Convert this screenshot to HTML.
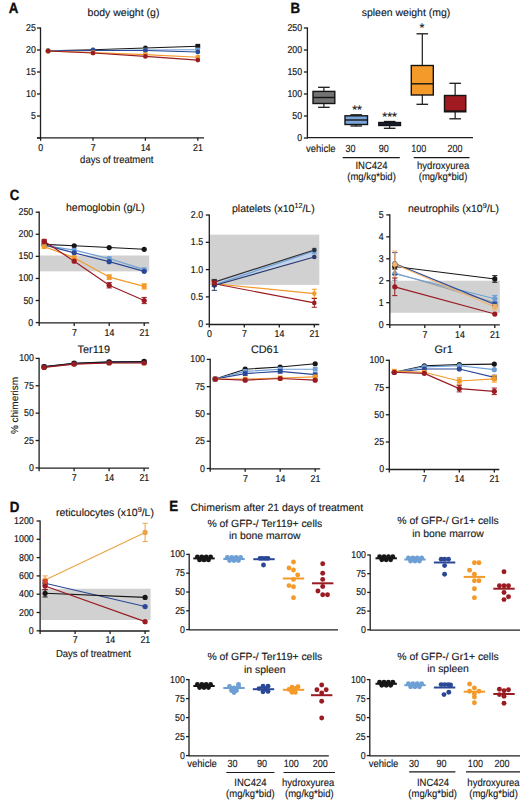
<!DOCTYPE html>
<html><head><meta charset="utf-8"><style>
html,body{margin:0;padding:0;background:#fff;}
body{width:520px;height:800px;overflow:hidden;}
svg{display:block;font-family:"Liberation Sans", sans-serif;}
text{stroke:#151515;stroke-width:0.12px;paint-order:stroke;text-rendering:geometricPrecision;}
text.tk{stroke-width:0.18px;}
text.pl{stroke-width:0.35px;}
</style></head><body>
<svg width="520" height="800" viewBox="0 0 520 800">
<rect width="520" height="800" fill="#fff"/>
<text transform="translate(8.80 13.30) scale(0.9 1.0)" font-size="14.8" text-anchor="start" font-weight="bold" fill="#0d0d0d" class="pl">A</text>
<text transform="translate(290.40 13.30) scale(0.9 1.0)" font-size="14.8" text-anchor="start" font-weight="bold" fill="#0d0d0d" class="pl">B</text>
<text transform="translate(9.80 199.50) scale(0.9 1.0)" font-size="14.8" text-anchor="start" font-weight="bold" fill="#0d0d0d" class="pl">C</text>
<text transform="translate(9.80 511.50) scale(0.9 1.0)" font-size="14.8" text-anchor="start" font-weight="bold" fill="#0d0d0d" class="pl">D</text>
<text transform="translate(169.20 511.30) scale(0.9 1.0)" font-size="14.8" text-anchor="start" font-weight="bold" fill="#0d0d0d" class="pl">E</text>
<text x="123.50" y="16.40" font-size="10.5" text-anchor="middle" font-weight="normal" fill="#151515">body weight (g)</text>
<line x1="40.50" y1="27.40" x2="40.50" y2="138.60" stroke="#1e1e1e" stroke-width="1.3"/>
<line x1="37.00" y1="138.00" x2="40.50" y2="138.00" stroke="#1e1e1e" stroke-width="1.3"/>
<line x1="37.00" y1="116.00" x2="40.50" y2="116.00" stroke="#1e1e1e" stroke-width="1.3"/>
<text transform="translate(35.80 119.00) scale(0.88 1.0)" font-size="10.0" text-anchor="end" font-weight="normal" fill="#151515" class="tk">5</text>
<line x1="37.00" y1="94.00" x2="40.50" y2="94.00" stroke="#1e1e1e" stroke-width="1.3"/>
<text transform="translate(35.80 97.00) scale(0.88 1.0)" font-size="10.0" text-anchor="end" font-weight="normal" fill="#151515" class="tk">10</text>
<line x1="37.00" y1="72.00" x2="40.50" y2="72.00" stroke="#1e1e1e" stroke-width="1.3"/>
<text transform="translate(35.80 75.00) scale(0.88 1.0)" font-size="10.0" text-anchor="end" font-weight="normal" fill="#151515" class="tk">15</text>
<line x1="37.00" y1="50.00" x2="40.50" y2="50.00" stroke="#1e1e1e" stroke-width="1.3"/>
<text transform="translate(35.80 53.00) scale(0.88 1.0)" font-size="10.0" text-anchor="end" font-weight="normal" fill="#151515" class="tk">20</text>
<line x1="37.00" y1="28.00" x2="40.50" y2="28.00" stroke="#1e1e1e" stroke-width="1.3"/>
<text transform="translate(35.80 31.00) scale(0.88 1.0)" font-size="10.0" text-anchor="end" font-weight="normal" fill="#151515" class="tk">25</text>
<line x1="37.00" y1="137.80" x2="204.00" y2="137.80" stroke="#1e1e1e" stroke-width="1.3"/>
<line x1="40.60" y1="137.80" x2="40.60" y2="140.80" stroke="#1e1e1e" stroke-width="1.3"/>
<text transform="translate(40.80 150.90) scale(0.88 1.0)" font-size="10.0" text-anchor="middle" font-weight="normal" fill="#151515" class="tk">0</text>
<line x1="93.00" y1="137.80" x2="93.00" y2="140.80" stroke="#1e1e1e" stroke-width="1.3"/>
<text transform="translate(93.20 150.90) scale(0.88 1.0)" font-size="10.0" text-anchor="middle" font-weight="normal" fill="#151515" class="tk">7</text>
<line x1="145.40" y1="137.80" x2="145.40" y2="140.80" stroke="#1e1e1e" stroke-width="1.3"/>
<text transform="translate(145.60 150.90) scale(0.88 1.0)" font-size="10.0" text-anchor="middle" font-weight="normal" fill="#151515" class="tk">14</text>
<line x1="197.81" y1="137.80" x2="197.81" y2="140.80" stroke="#1e1e1e" stroke-width="1.3"/>
<text transform="translate(198.01 150.90) scale(0.88 1.0)" font-size="10.0" text-anchor="middle" font-weight="normal" fill="#151515" class="tk">21</text>
<text transform="translate(116.80 162.50) scale(1.0 1.1)" font-size="9.5" text-anchor="middle" font-weight="normal" fill="#151515">days of treatment</text>
<polyline points="48.09,50.88 93.00,49.78 145.40,48.02 197.81,46.26" fill="none" stroke="#161616" stroke-width="1.05" stroke-linejoin="round"/>
<polyline points="48.09,50.88 93.00,50.44 145.40,50.00 197.81,49.78" fill="none" stroke="#6d9fd5" stroke-width="1.05" stroke-linejoin="round"/>
<polyline points="48.09,50.88 93.00,50.44 145.40,50.44 197.81,51.98" fill="none" stroke="#2b4897" stroke-width="1.05" stroke-linejoin="round"/>
<polyline points="48.09,51.10 93.00,52.64 145.40,54.62 197.81,57.26" fill="none" stroke="#f39a2a" stroke-width="1.05" stroke-linejoin="round"/>
<polyline points="48.09,51.10 93.00,53.08 145.40,56.38 197.81,60.12" fill="none" stroke="#9a1b22" stroke-width="1.05" stroke-linejoin="round"/>
<circle cx="48.09" cy="50.88" r="2.4" fill="#161616"/>
<circle cx="93.00" cy="49.78" r="2.4" fill="#161616"/>
<circle cx="145.40" cy="48.02" r="2.4" fill="#161616"/>
<rect x="195.41" y="43.86" width="4.80" height="4.80" fill="#161616"/>
<rect x="45.89" y="48.68" width="4.40" height="4.40" fill="#6d9fd5"/>
<rect x="90.80" y="48.24" width="4.40" height="4.40" fill="#6d9fd5"/>
<rect x="143.20" y="47.80" width="4.40" height="4.40" fill="#6d9fd5"/>
<rect x="195.61" y="47.58" width="4.40" height="4.40" fill="#6d9fd5"/>
<circle cx="48.09" cy="50.88" r="2.4" fill="#2b4897"/>
<circle cx="93.00" cy="50.44" r="2.4" fill="#2b4897"/>
<circle cx="145.40" cy="50.44" r="2.4" fill="#2b4897"/>
<circle cx="197.81" cy="51.98" r="2.4" fill="#2b4897"/>
<rect x="45.89" y="48.90" width="4.40" height="4.40" fill="#f39a2a"/>
<rect x="90.80" y="50.44" width="4.40" height="4.40" fill="#f39a2a"/>
<rect x="143.20" y="52.42" width="4.40" height="4.40" fill="#f39a2a"/>
<rect x="195.61" y="55.06" width="4.40" height="4.40" fill="#f39a2a"/>
<circle cx="48.09" cy="51.10" r="2.4" fill="#9a1b22"/>
<circle cx="93.00" cy="53.08" r="2.4" fill="#9a1b22"/>
<circle cx="145.40" cy="56.38" r="2.4" fill="#9a1b22"/>
<circle cx="197.81" cy="60.12" r="2.4" fill="#9a1b22"/>
<text x="406.00" y="16.40" font-size="10.5" text-anchor="middle" font-weight="normal" fill="#151515">spleen weight (mg)</text>
<line x1="307.40" y1="27.40" x2="307.40" y2="138.60" stroke="#1e1e1e" stroke-width="1.3"/>
<line x1="303.90" y1="138.00" x2="307.40" y2="138.00" stroke="#1e1e1e" stroke-width="1.3"/>
<text transform="translate(302.10 141.00) scale(0.88 1.0)" font-size="10.0" text-anchor="end" font-weight="normal" fill="#151515" class="tk">0</text>
<line x1="303.90" y1="116.00" x2="307.40" y2="116.00" stroke="#1e1e1e" stroke-width="1.3"/>
<text transform="translate(302.10 119.00) scale(0.88 1.0)" font-size="10.0" text-anchor="end" font-weight="normal" fill="#151515" class="tk">50</text>
<line x1="303.90" y1="94.00" x2="307.40" y2="94.00" stroke="#1e1e1e" stroke-width="1.3"/>
<text transform="translate(302.10 97.00) scale(0.88 1.0)" font-size="10.0" text-anchor="end" font-weight="normal" fill="#151515" class="tk">100</text>
<line x1="303.90" y1="72.00" x2="307.40" y2="72.00" stroke="#1e1e1e" stroke-width="1.3"/>
<text transform="translate(302.10 75.00) scale(0.88 1.0)" font-size="10.0" text-anchor="end" font-weight="normal" fill="#151515" class="tk">150</text>
<line x1="303.90" y1="50.00" x2="307.40" y2="50.00" stroke="#1e1e1e" stroke-width="1.3"/>
<text transform="translate(302.10 53.00) scale(0.88 1.0)" font-size="10.0" text-anchor="end" font-weight="normal" fill="#151515" class="tk">200</text>
<line x1="303.90" y1="28.00" x2="307.40" y2="28.00" stroke="#1e1e1e" stroke-width="1.3"/>
<text transform="translate(302.10 31.00) scale(0.88 1.0)" font-size="10.0" text-anchor="end" font-weight="normal" fill="#151515" class="tk">250</text>
<line x1="307.40" y1="137.60" x2="473.00" y2="137.60" stroke="#1e1e1e" stroke-width="1.3"/>
<line x1="323.90" y1="87.30" x2="323.90" y2="91.40" stroke="#1a1a1a" stroke-width="1.2"/>
<line x1="323.90" y1="103.50" x2="323.90" y2="107.30" stroke="#1a1a1a" stroke-width="1.2"/>
<line x1="318.10" y1="87.30" x2="329.70" y2="87.30" stroke="#1a1a1a" stroke-width="1.3"/>
<line x1="318.10" y1="107.30" x2="329.70" y2="107.30" stroke="#1a1a1a" stroke-width="1.3"/>
<rect x="313.00" y="91.40" width="21.80" height="12.10" fill="#737373" stroke="#141414" stroke-width="1.4"/>
<line x1="313.00" y1="97.50" x2="334.80" y2="97.50" stroke="#141414" stroke-width="1.4"/>
<line x1="356.25" y1="114.80" x2="356.25" y2="115.80" stroke="#1a1a1a" stroke-width="1.2"/>
<line x1="356.25" y1="124.50" x2="356.25" y2="126.00" stroke="#1a1a1a" stroke-width="1.2"/>
<line x1="350.45" y1="114.80" x2="362.05" y2="114.80" stroke="#1a1a1a" stroke-width="1.3"/>
<line x1="350.45" y1="126.00" x2="362.05" y2="126.00" stroke="#1a1a1a" stroke-width="1.3"/>
<rect x="345.00" y="115.80" width="22.50" height="8.70" fill="#79a5db" stroke="#141414" stroke-width="1.4"/>
<line x1="345.00" y1="120.00" x2="367.50" y2="120.00" stroke="#141414" stroke-width="1.4"/>
<line x1="389.65" y1="121.50" x2="389.65" y2="122.50" stroke="#1a1a1a" stroke-width="1.2"/>
<line x1="389.65" y1="125.50" x2="389.65" y2="128.30" stroke="#1a1a1a" stroke-width="1.2"/>
<line x1="383.85" y1="121.50" x2="395.45" y2="121.50" stroke="#1a1a1a" stroke-width="1.3"/>
<line x1="383.85" y1="128.30" x2="395.45" y2="128.30" stroke="#1a1a1a" stroke-width="1.3"/>
<rect x="378.80" y="122.50" width="21.70" height="3.00" fill="#2b3d85" stroke="#141414" stroke-width="1.4"/>
<line x1="378.80" y1="124.00" x2="400.50" y2="124.00" stroke="#141414" stroke-width="1.4"/>
<line x1="422.30" y1="33.80" x2="422.30" y2="65.50" stroke="#1a1a1a" stroke-width="1.2"/>
<line x1="422.30" y1="95.00" x2="422.30" y2="104.30" stroke="#1a1a1a" stroke-width="1.2"/>
<line x1="416.50" y1="33.80" x2="428.10" y2="33.80" stroke="#1a1a1a" stroke-width="1.3"/>
<line x1="416.50" y1="104.30" x2="428.10" y2="104.30" stroke="#1a1a1a" stroke-width="1.3"/>
<rect x="411.30" y="65.50" width="22.00" height="29.50" fill="#f39a2a" stroke="#141414" stroke-width="1.4"/>
<line x1="411.30" y1="83.80" x2="433.30" y2="83.80" stroke="#141414" stroke-width="1.4"/>
<line x1="455.15" y1="83.30" x2="455.15" y2="95.50" stroke="#1a1a1a" stroke-width="1.2"/>
<line x1="455.15" y1="111.80" x2="455.15" y2="118.80" stroke="#1a1a1a" stroke-width="1.2"/>
<line x1="449.35" y1="83.30" x2="460.95" y2="83.30" stroke="#1a1a1a" stroke-width="1.3"/>
<line x1="449.35" y1="118.80" x2="460.95" y2="118.80" stroke="#1a1a1a" stroke-width="1.3"/>
<rect x="444.50" y="95.50" width="21.30" height="16.30" fill="#a11a21" stroke="#141414" stroke-width="1.4"/>
<line x1="444.50" y1="111.00" x2="465.80" y2="111.00" stroke="#141414" stroke-width="1.4"/>
<text x="357.00" y="114.40" font-size="12.5" text-anchor="middle" font-weight="normal" fill="#151515">**</text>
<text x="389.60" y="120.60" font-size="12.5" text-anchor="middle" font-weight="normal" fill="#151515">***</text>
<text x="422.00" y="31.60" font-size="12.5" text-anchor="middle" font-weight="normal" fill="#151515">*</text>
<text transform="translate(320.80 151.90) scale(1.0 1.1)" font-size="9.5" text-anchor="middle" font-weight="normal" fill="#151515">vehicle</text>
<text transform="translate(350.60 151.90) scale(0.95 1.1)" font-size="9.5" text-anchor="middle" font-weight="normal" fill="#151515">30</text>
<text transform="translate(383.70 151.90) scale(0.95 1.1)" font-size="9.5" text-anchor="middle" font-weight="normal" fill="#151515">90</text>
<text transform="translate(418.80 151.90) scale(0.95 1.1)" font-size="9.5" text-anchor="middle" font-weight="normal" fill="#151515">100</text>
<text transform="translate(455.00 151.90) scale(0.95 1.1)" font-size="9.5" text-anchor="middle" font-weight="normal" fill="#151515">200</text>
<line x1="342.70" y1="157.70" x2="399.80" y2="157.70" stroke="#1a1a1a" stroke-width="1.2"/>
<line x1="413.70" y1="157.70" x2="469.50" y2="157.70" stroke="#1a1a1a" stroke-width="1.2"/>
<text transform="translate(371.50 168.80) scale(1.0 1.1)" font-size="9.5" text-anchor="middle" font-weight="normal" fill="#151515">INC424</text>
<text transform="translate(371.50 179.60) scale(1.0 1.1)" font-size="9.5" text-anchor="middle" font-weight="normal" fill="#151515">(mg/kg*bid)</text>
<text transform="translate(443.20 168.80) scale(1.0 1.1)" font-size="9.5" text-anchor="middle" font-weight="normal" fill="#151515">hydroxyurea</text>
<text transform="translate(443.00 179.60) scale(1.0 1.1)" font-size="9.5" text-anchor="middle" font-weight="normal" fill="#151515">(mg/kg*bid)</text>
<rect x="39.20" y="255.48" width="110.00" height="15.90" fill="#d1d1d1"/>
<line x1="39.20" y1="211.60" x2="39.20" y2="323.20" stroke="#1e1e1e" stroke-width="1.3"/>
<line x1="35.70" y1="322.60" x2="39.20" y2="322.60" stroke="#1e1e1e" stroke-width="1.3"/>
<text transform="translate(33.20 325.60) scale(0.88 1.0)" font-size="10.0" text-anchor="end" font-weight="normal" fill="#151515" class="tk">0</text>
<line x1="35.70" y1="300.52" x2="39.20" y2="300.52" stroke="#1e1e1e" stroke-width="1.3"/>
<text transform="translate(33.20 303.52) scale(0.88 1.0)" font-size="10.0" text-anchor="end" font-weight="normal" fill="#151515" class="tk">50</text>
<line x1="35.70" y1="278.44" x2="39.20" y2="278.44" stroke="#1e1e1e" stroke-width="1.3"/>
<text transform="translate(33.20 281.44) scale(0.88 1.0)" font-size="10.0" text-anchor="end" font-weight="normal" fill="#151515" class="tk">100</text>
<line x1="35.70" y1="256.36" x2="39.20" y2="256.36" stroke="#1e1e1e" stroke-width="1.3"/>
<text transform="translate(33.20 259.36) scale(0.88 1.0)" font-size="10.0" text-anchor="end" font-weight="normal" fill="#151515" class="tk">150</text>
<line x1="35.70" y1="234.28" x2="39.20" y2="234.28" stroke="#1e1e1e" stroke-width="1.3"/>
<text transform="translate(33.20 237.28) scale(0.88 1.0)" font-size="10.0" text-anchor="end" font-weight="normal" fill="#151515" class="tk">200</text>
<line x1="35.70" y1="212.20" x2="39.20" y2="212.20" stroke="#1e1e1e" stroke-width="1.3"/>
<text transform="translate(33.20 215.20) scale(0.88 1.0)" font-size="10.0" text-anchor="end" font-weight="normal" fill="#151515" class="tk">250</text>
<line x1="39.20" y1="322.90" x2="149.20" y2="322.90" stroke="#1e1e1e" stroke-width="1.3"/>
<line x1="39.20" y1="322.90" x2="39.20" y2="325.90" stroke="#1e1e1e" stroke-width="1.3"/>
<line x1="74.20" y1="322.90" x2="74.20" y2="325.90" stroke="#1e1e1e" stroke-width="1.3"/>
<text transform="translate(74.40 335.80) scale(0.88 1.0)" font-size="10.0" text-anchor="middle" font-weight="normal" fill="#151515" class="tk">7</text>
<line x1="109.20" y1="322.90" x2="109.20" y2="325.90" stroke="#1e1e1e" stroke-width="1.3"/>
<text transform="translate(109.40 335.80) scale(0.88 1.0)" font-size="10.0" text-anchor="middle" font-weight="normal" fill="#151515" class="tk">14</text>
<line x1="144.20" y1="322.90" x2="144.20" y2="325.90" stroke="#1e1e1e" stroke-width="1.3"/>
<text transform="translate(144.40 335.80) scale(0.88 1.0)" font-size="10.0" text-anchor="middle" font-weight="normal" fill="#151515" class="tk">21</text>
<text x="105.40" y="211.30" font-size="10.5" text-anchor="middle" font-weight="normal" fill="#151515">hemoglobin (g/L)</text>
<polyline points="44.20,244.44 74.20,245.76 109.20,247.53 144.20,249.29" fill="none" stroke="#161616" stroke-width="1.15" stroke-linejoin="round"/>
<polyline points="44.20,245.32 74.20,250.18 109.20,258.57 144.20,269.61" fill="none" stroke="#6d9fd5" stroke-width="1.15" stroke-linejoin="round"/>
<polyline points="44.20,244.88 74.20,252.83 109.20,261.66 144.20,271.37" fill="none" stroke="#2b4897" stroke-width="1.15" stroke-linejoin="round"/>
<polyline points="44.20,246.64 74.20,257.68 109.20,277.12 144.20,286.39" fill="none" stroke="#f39a2a" stroke-width="1.15" stroke-linejoin="round"/>
<polyline points="44.20,241.35 74.20,261.22 109.20,285.28 144.20,300.52" fill="none" stroke="#9a1b22" stroke-width="1.15" stroke-linejoin="round"/>
<circle cx="44.20" cy="244.44" r="2.6" fill="#161616"/>
<circle cx="74.20" cy="245.76" r="2.6" fill="#161616"/>
<circle cx="109.20" cy="247.53" r="2.6" fill="#161616"/>
<circle cx="144.20" cy="249.29" r="2.6" fill="#161616"/>
<rect x="41.80" y="242.92" width="4.80" height="4.80" fill="#6d9fd5"/>
<rect x="71.80" y="247.78" width="4.80" height="4.80" fill="#6d9fd5"/>
<rect x="106.80" y="256.17" width="4.80" height="4.80" fill="#6d9fd5"/>
<rect x="141.80" y="267.21" width="4.80" height="4.80" fill="#6d9fd5"/>
<circle cx="44.20" cy="244.88" r="2.6" fill="#2b4897"/>
<circle cx="74.20" cy="252.83" r="2.6" fill="#2b4897"/>
<circle cx="109.20" cy="261.66" r="2.6" fill="#2b4897"/>
<circle cx="144.20" cy="271.37" r="2.6" fill="#2b4897"/>
<rect x="41.80" y="244.24" width="4.80" height="4.80" fill="#f39a2a"/>
<rect x="71.80" y="255.28" width="4.80" height="4.80" fill="#f39a2a"/>
<line x1="109.20" y1="279.32" x2="109.20" y2="274.91" stroke="#f39a2a" stroke-width="1.0"/>
<line x1="106.60" y1="279.32" x2="111.80" y2="279.32" stroke="#f39a2a" stroke-width="1.0"/>
<line x1="106.60" y1="274.91" x2="111.80" y2="274.91" stroke="#f39a2a" stroke-width="1.0"/>
<rect x="106.80" y="274.72" width="4.80" height="4.80" fill="#f39a2a"/>
<line x1="144.20" y1="289.04" x2="144.20" y2="283.74" stroke="#f39a2a" stroke-width="1.0"/>
<line x1="141.60" y1="289.04" x2="146.80" y2="289.04" stroke="#f39a2a" stroke-width="1.0"/>
<line x1="141.60" y1="283.74" x2="146.80" y2="283.74" stroke="#f39a2a" stroke-width="1.0"/>
<rect x="141.80" y="283.99" width="4.80" height="4.80" fill="#f39a2a"/>
<circle cx="44.20" cy="241.35" r="2.6" fill="#9a1b22"/>
<circle cx="74.20" cy="261.22" r="2.6" fill="#9a1b22"/>
<line x1="109.20" y1="287.93" x2="109.20" y2="282.64" stroke="#9a1b22" stroke-width="1.0"/>
<line x1="106.60" y1="287.93" x2="111.80" y2="287.93" stroke="#9a1b22" stroke-width="1.0"/>
<line x1="106.60" y1="282.64" x2="111.80" y2="282.64" stroke="#9a1b22" stroke-width="1.0"/>
<circle cx="109.20" cy="285.28" r="2.6" fill="#9a1b22"/>
<line x1="144.20" y1="303.61" x2="144.20" y2="297.43" stroke="#9a1b22" stroke-width="1.0"/>
<line x1="141.60" y1="303.61" x2="146.80" y2="303.61" stroke="#9a1b22" stroke-width="1.0"/>
<line x1="141.60" y1="297.43" x2="146.80" y2="297.43" stroke="#9a1b22" stroke-width="1.0"/>
<circle cx="144.20" cy="300.52" r="2.6" fill="#9a1b22"/>
<rect x="41.70" y="238.85" width="5.00" height="5.00" fill="#9a1b22"/>
<rect x="209.30" y="234.66" width="110.00" height="50.23" fill="#d1d1d1"/>
<line x1="209.30" y1="214.40" x2="209.30" y2="324.80" stroke="#1e1e1e" stroke-width="1.3"/>
<line x1="205.80" y1="324.20" x2="209.30" y2="324.20" stroke="#1e1e1e" stroke-width="1.3"/>
<text transform="translate(203.10 327.20) scale(0.88 1.0)" font-size="10.0" text-anchor="end" font-weight="normal" fill="#151515" class="tk">0</text>
<line x1="205.80" y1="296.90" x2="209.30" y2="296.90" stroke="#1e1e1e" stroke-width="1.3"/>
<text transform="translate(203.10 299.90) scale(0.88 1.0)" font-size="10.0" text-anchor="end" font-weight="normal" fill="#151515" class="tk">0.5</text>
<line x1="205.80" y1="269.60" x2="209.30" y2="269.60" stroke="#1e1e1e" stroke-width="1.3"/>
<text transform="translate(203.10 272.60) scale(0.88 1.0)" font-size="10.0" text-anchor="end" font-weight="normal" fill="#151515" class="tk">1.0</text>
<line x1="205.80" y1="242.30" x2="209.30" y2="242.30" stroke="#1e1e1e" stroke-width="1.3"/>
<text transform="translate(203.10 245.30) scale(0.88 1.0)" font-size="10.0" text-anchor="end" font-weight="normal" fill="#151515" class="tk">1.5</text>
<line x1="205.80" y1="215.00" x2="209.30" y2="215.00" stroke="#1e1e1e" stroke-width="1.3"/>
<text transform="translate(203.10 218.00) scale(0.88 1.0)" font-size="10.0" text-anchor="end" font-weight="normal" fill="#151515" class="tk">2.0</text>
<line x1="209.30" y1="324.50" x2="319.30" y2="324.50" stroke="#1e1e1e" stroke-width="1.3"/>
<line x1="209.30" y1="324.50" x2="209.30" y2="327.50" stroke="#1e1e1e" stroke-width="1.3"/>
<text transform="translate(209.50 337.40) scale(0.88 1.0)" font-size="10.0" text-anchor="middle" font-weight="normal" fill="#151515" class="tk">0</text>
<line x1="244.30" y1="324.50" x2="244.30" y2="327.50" stroke="#1e1e1e" stroke-width="1.3"/>
<text transform="translate(244.50 337.40) scale(0.88 1.0)" font-size="10.0" text-anchor="middle" font-weight="normal" fill="#151515" class="tk">7</text>
<line x1="279.30" y1="324.50" x2="279.30" y2="327.50" stroke="#1e1e1e" stroke-width="1.3"/>
<text transform="translate(279.50 337.40) scale(0.88 1.0)" font-size="10.0" text-anchor="middle" font-weight="normal" fill="#151515" class="tk">14</text>
<line x1="314.30" y1="324.50" x2="314.30" y2="327.50" stroke="#1e1e1e" stroke-width="1.3"/>
<text transform="translate(314.50 337.40) scale(0.88 1.0)" font-size="10.0" text-anchor="middle" font-weight="normal" fill="#151515" class="tk">21</text>
<text x="232.00" y="211.90" font-size="10.5" text-anchor="start" font-weight="normal" fill="#151515">platelets (x10<tspan dy="-4.2" font-size="7.2">12</tspan><tspan dy="4.2">/L)</tspan></text>
<polygon points="214.30,282.16 314.30,249.94 314.30,257.04 214.30,285.43" fill="#c3d1e8"/>
<polyline points="214.30,283.80 314.30,293.62" fill="none" stroke="#f39a2a" stroke-width="1.15" stroke-linejoin="round"/>
<polyline points="214.30,283.80 314.30,302.91" fill="none" stroke="#9a1b22" stroke-width="1.15" stroke-linejoin="round"/>
<polyline points="214.30,284.89 314.30,251.04" fill="none" stroke="#6d9fd5" stroke-width="1.15" stroke-linejoin="round"/>
<polyline points="214.30,285.43 314.30,257.04" fill="none" stroke="#2a3a6a" stroke-width="1.15" stroke-linejoin="round"/>
<polyline points="214.30,282.16 314.30,249.94" fill="none" stroke="#303030" stroke-width="1.15" stroke-linejoin="round"/>
<line x1="214.30" y1="285.98" x2="214.30" y2="281.61" stroke="#f39a2a" stroke-width="1.0"/>
<line x1="211.70" y1="285.98" x2="216.90" y2="285.98" stroke="#f39a2a" stroke-width="1.0"/>
<line x1="211.70" y1="281.61" x2="216.90" y2="281.61" stroke="#f39a2a" stroke-width="1.0"/>
<circle cx="214.30" cy="283.80" r="2.3" fill="#f39a2a"/>
<line x1="314.30" y1="297.99" x2="314.30" y2="289.26" stroke="#f39a2a" stroke-width="1.0"/>
<line x1="311.70" y1="297.99" x2="316.90" y2="297.99" stroke="#f39a2a" stroke-width="1.0"/>
<line x1="311.70" y1="289.26" x2="316.90" y2="289.26" stroke="#f39a2a" stroke-width="1.0"/>
<circle cx="314.30" cy="293.62" r="2.3" fill="#f39a2a"/>
<line x1="214.30" y1="286.53" x2="214.30" y2="281.07" stroke="#9a1b22" stroke-width="1.0"/>
<line x1="211.70" y1="286.53" x2="216.90" y2="286.53" stroke="#9a1b22" stroke-width="1.0"/>
<line x1="211.70" y1="281.07" x2="216.90" y2="281.07" stroke="#9a1b22" stroke-width="1.0"/>
<circle cx="214.30" cy="283.80" r="2.3" fill="#9a1b22"/>
<line x1="314.30" y1="307.27" x2="314.30" y2="298.54" stroke="#9a1b22" stroke-width="1.0"/>
<line x1="311.70" y1="307.27" x2="316.90" y2="307.27" stroke="#9a1b22" stroke-width="1.0"/>
<line x1="311.70" y1="298.54" x2="316.90" y2="298.54" stroke="#9a1b22" stroke-width="1.0"/>
<circle cx="314.30" cy="302.91" r="2.3" fill="#9a1b22"/>
<rect x="212.20" y="282.79" width="4.20" height="4.20" fill="#6d9fd5"/>
<line x1="314.30" y1="253.77" x2="314.30" y2="248.31" stroke="#6d9fd5" stroke-width="1.0"/>
<line x1="311.70" y1="253.77" x2="316.90" y2="253.77" stroke="#6d9fd5" stroke-width="1.0"/>
<line x1="311.70" y1="248.31" x2="316.90" y2="248.31" stroke="#6d9fd5" stroke-width="1.0"/>
<rect x="312.20" y="248.94" width="4.20" height="4.20" fill="#6d9fd5"/>
<line x1="214.30" y1="290.35" x2="214.30" y2="280.52" stroke="#2a3a6a" stroke-width="1.0"/>
<line x1="211.70" y1="290.35" x2="216.90" y2="290.35" stroke="#2a3a6a" stroke-width="1.0"/>
<line x1="211.70" y1="280.52" x2="216.90" y2="280.52" stroke="#2a3a6a" stroke-width="1.0"/>
<circle cx="214.30" cy="285.43" r="2.3" fill="#2a3a6a"/>
<circle cx="314.30" cy="257.04" r="2.3" fill="#2a3a6a"/>
<line x1="214.30" y1="284.89" x2="214.30" y2="279.43" stroke="#303030" stroke-width="1.0"/>
<line x1="211.70" y1="284.89" x2="216.90" y2="284.89" stroke="#303030" stroke-width="1.0"/>
<line x1="211.70" y1="279.43" x2="216.90" y2="279.43" stroke="#303030" stroke-width="1.0"/>
<circle cx="214.30" cy="282.16" r="2.3" fill="#303030"/>
<circle cx="314.30" cy="249.94" r="2.3" fill="#303030"/>
<rect x="211.90" y="280.30" width="4.80" height="4.80" fill="#9a1b22"/>
<rect x="389.80" y="280.72" width="110.00" height="32.03" fill="#d1d1d1"/>
<line x1="389.80" y1="214.30" x2="389.80" y2="325.20" stroke="#1e1e1e" stroke-width="1.3"/>
<line x1="386.30" y1="324.60" x2="389.80" y2="324.60" stroke="#1e1e1e" stroke-width="1.3"/>
<text transform="translate(383.60 327.60) scale(0.88 1.0)" font-size="10.0" text-anchor="end" font-weight="normal" fill="#151515" class="tk">0</text>
<line x1="386.30" y1="302.66" x2="389.80" y2="302.66" stroke="#1e1e1e" stroke-width="1.3"/>
<text transform="translate(383.60 305.66) scale(0.88 1.0)" font-size="10.0" text-anchor="end" font-weight="normal" fill="#151515" class="tk">1</text>
<line x1="386.30" y1="280.72" x2="389.80" y2="280.72" stroke="#1e1e1e" stroke-width="1.3"/>
<text transform="translate(383.60 283.72) scale(0.88 1.0)" font-size="10.0" text-anchor="end" font-weight="normal" fill="#151515" class="tk">2</text>
<line x1="386.30" y1="258.78" x2="389.80" y2="258.78" stroke="#1e1e1e" stroke-width="1.3"/>
<text transform="translate(383.60 261.78) scale(0.88 1.0)" font-size="10.0" text-anchor="end" font-weight="normal" fill="#151515" class="tk">3</text>
<line x1="386.30" y1="236.84" x2="389.80" y2="236.84" stroke="#1e1e1e" stroke-width="1.3"/>
<text transform="translate(383.60 239.84) scale(0.88 1.0)" font-size="10.0" text-anchor="end" font-weight="normal" fill="#151515" class="tk">4</text>
<line x1="386.30" y1="214.90" x2="389.80" y2="214.90" stroke="#1e1e1e" stroke-width="1.3"/>
<text transform="translate(383.60 217.90) scale(0.88 1.0)" font-size="10.0" text-anchor="end" font-weight="normal" fill="#151515" class="tk">5</text>
<line x1="389.80" y1="324.90" x2="499.80" y2="324.90" stroke="#1e1e1e" stroke-width="1.3"/>
<line x1="389.80" y1="324.90" x2="389.80" y2="327.90" stroke="#1e1e1e" stroke-width="1.3"/>
<line x1="424.80" y1="324.90" x2="424.80" y2="327.90" stroke="#1e1e1e" stroke-width="1.3"/>
<text transform="translate(425.00 337.80) scale(0.88 1.0)" font-size="10.0" text-anchor="middle" font-weight="normal" fill="#151515" class="tk">7</text>
<line x1="459.80" y1="324.90" x2="459.80" y2="327.90" stroke="#1e1e1e" stroke-width="1.3"/>
<text transform="translate(460.00 337.80) scale(0.88 1.0)" font-size="10.0" text-anchor="middle" font-weight="normal" fill="#151515" class="tk">14</text>
<line x1="494.80" y1="324.90" x2="494.80" y2="327.90" stroke="#1e1e1e" stroke-width="1.3"/>
<text transform="translate(495.00 337.80) scale(0.88 1.0)" font-size="10.0" text-anchor="middle" font-weight="normal" fill="#151515" class="tk">21</text>
<text x="408.00" y="211.90" font-size="10.5" text-anchor="start" font-weight="normal" fill="#151515">neutrophils (x10<tspan dy="-4.2" font-size="7.2">9</tspan><tspan dy="4.2">/L)</tspan></text>
<polyline points="394.80,273.04 494.80,302.66" fill="none" stroke="#a0a0a0" stroke-width="1.15" stroke-linejoin="round"/>
<polyline points="394.80,273.70 494.80,298.71" fill="none" stroke="#6d9fd5" stroke-width="1.15" stroke-linejoin="round"/>
<polyline points="394.80,263.61 494.80,304.42" fill="none" stroke="#2b4897" stroke-width="1.15" stroke-linejoin="round"/>
<polyline points="394.80,266.46 494.80,278.96" fill="none" stroke="#161616" stroke-width="1.15" stroke-linejoin="round"/>
<polyline points="394.80,264.26 494.80,307.05" fill="none" stroke="#f1b36a" stroke-width="1.15" stroke-linejoin="round"/>
<polyline points="394.80,286.86 494.80,314.07" fill="none" stroke="#9a1b22" stroke-width="1.15" stroke-linejoin="round"/>
<polygon points="394.80,270.04 397.70,275.24 391.90,275.24" fill="#a0a0a0"/>
<polygon points="494.80,299.66 497.70,304.86 491.90,304.86" fill="#a0a0a0"/>
<line x1="394.80" y1="280.28" x2="394.80" y2="267.12" stroke="#6d9fd5" stroke-width="1.0"/>
<line x1="392.20" y1="280.28" x2="397.40" y2="280.28" stroke="#6d9fd5" stroke-width="1.0"/>
<line x1="392.20" y1="267.12" x2="397.40" y2="267.12" stroke="#6d9fd5" stroke-width="1.0"/>
<circle cx="394.80" cy="273.70" r="2.6" fill="#6d9fd5"/>
<line x1="494.80" y1="302.00" x2="494.80" y2="295.42" stroke="#6d9fd5" stroke-width="1.0"/>
<line x1="492.20" y1="302.00" x2="497.40" y2="302.00" stroke="#6d9fd5" stroke-width="1.0"/>
<line x1="492.20" y1="295.42" x2="497.40" y2="295.42" stroke="#6d9fd5" stroke-width="1.0"/>
<circle cx="494.80" cy="298.71" r="2.6" fill="#6d9fd5"/>
<line x1="394.80" y1="274.58" x2="394.80" y2="252.64" stroke="#2b4897" stroke-width="1.0"/>
<line x1="392.20" y1="274.58" x2="397.40" y2="274.58" stroke="#2b4897" stroke-width="1.0"/>
<line x1="392.20" y1="252.64" x2="397.40" y2="252.64" stroke="#2b4897" stroke-width="1.0"/>
<circle cx="394.80" cy="263.61" r="2.6" fill="#2b4897"/>
<line x1="494.80" y1="306.61" x2="494.80" y2="302.22" stroke="#2b4897" stroke-width="1.0"/>
<line x1="492.20" y1="306.61" x2="497.40" y2="306.61" stroke="#2b4897" stroke-width="1.0"/>
<line x1="492.20" y1="302.22" x2="497.40" y2="302.22" stroke="#2b4897" stroke-width="1.0"/>
<circle cx="494.80" cy="304.42" r="2.6" fill="#2b4897"/>
<line x1="394.80" y1="269.09" x2="394.80" y2="263.83" stroke="#161616" stroke-width="1.0"/>
<line x1="392.20" y1="269.09" x2="397.40" y2="269.09" stroke="#161616" stroke-width="1.0"/>
<line x1="392.20" y1="263.83" x2="397.40" y2="263.83" stroke="#161616" stroke-width="1.0"/>
<circle cx="394.80" cy="266.46" r="2.6" fill="#161616"/>
<line x1="494.80" y1="282.26" x2="494.80" y2="275.67" stroke="#161616" stroke-width="1.0"/>
<line x1="492.20" y1="282.26" x2="497.40" y2="282.26" stroke="#161616" stroke-width="1.0"/>
<line x1="492.20" y1="275.67" x2="497.40" y2="275.67" stroke="#161616" stroke-width="1.0"/>
<circle cx="494.80" cy="278.96" r="2.6" fill="#161616"/>
<line x1="394.80" y1="277.43" x2="394.80" y2="251.10" stroke="#f1b36a" stroke-width="1.0"/>
<line x1="392.20" y1="277.43" x2="397.40" y2="277.43" stroke="#f1b36a" stroke-width="1.0"/>
<line x1="392.20" y1="251.10" x2="397.40" y2="251.10" stroke="#f1b36a" stroke-width="1.0"/>
<circle cx="394.80" cy="264.26" r="2.6" fill="#f1b36a"/>
<line x1="494.80" y1="309.68" x2="494.80" y2="304.42" stroke="#f1b36a" stroke-width="1.0"/>
<line x1="492.20" y1="309.68" x2="497.40" y2="309.68" stroke="#f1b36a" stroke-width="1.0"/>
<line x1="492.20" y1="304.42" x2="497.40" y2="304.42" stroke="#f1b36a" stroke-width="1.0"/>
<circle cx="494.80" cy="307.05" r="2.6" fill="#f1b36a"/>
<line x1="394.80" y1="295.64" x2="394.80" y2="278.09" stroke="#9a1b22" stroke-width="1.0"/>
<line x1="392.20" y1="295.64" x2="397.40" y2="295.64" stroke="#9a1b22" stroke-width="1.0"/>
<line x1="392.20" y1="278.09" x2="397.40" y2="278.09" stroke="#9a1b22" stroke-width="1.0"/>
<circle cx="394.80" cy="286.86" r="2.6" fill="#9a1b22"/>
<circle cx="494.80" cy="314.07" r="2.6" fill="#9a1b22"/>
<line x1="39.10" y1="357.80" x2="39.10" y2="468.50" stroke="#1e1e1e" stroke-width="1.3"/>
<line x1="35.60" y1="467.90" x2="39.10" y2="467.90" stroke="#1e1e1e" stroke-width="1.3"/>
<text transform="translate(33.90 470.90) scale(0.88 1.0)" font-size="10.0" text-anchor="end" font-weight="normal" fill="#151515" class="tk">0</text>
<line x1="35.60" y1="440.52" x2="39.10" y2="440.52" stroke="#1e1e1e" stroke-width="1.3"/>
<text transform="translate(33.90 443.52) scale(0.88 1.0)" font-size="10.0" text-anchor="end" font-weight="normal" fill="#151515" class="tk">25</text>
<line x1="35.60" y1="413.15" x2="39.10" y2="413.15" stroke="#1e1e1e" stroke-width="1.3"/>
<text transform="translate(33.90 416.15) scale(0.88 1.0)" font-size="10.0" text-anchor="end" font-weight="normal" fill="#151515" class="tk">50</text>
<line x1="35.60" y1="385.77" x2="39.10" y2="385.77" stroke="#1e1e1e" stroke-width="1.3"/>
<text transform="translate(33.90 388.77) scale(0.88 1.0)" font-size="10.0" text-anchor="end" font-weight="normal" fill="#151515" class="tk">75</text>
<line x1="35.60" y1="358.40" x2="39.10" y2="358.40" stroke="#1e1e1e" stroke-width="1.3"/>
<text transform="translate(33.90 361.40) scale(0.88 1.0)" font-size="10.0" text-anchor="end" font-weight="normal" fill="#151515" class="tk">100</text>
<line x1="39.10" y1="468.20" x2="149.10" y2="468.20" stroke="#1e1e1e" stroke-width="1.3"/>
<line x1="39.10" y1="468.20" x2="39.10" y2="471.20" stroke="#1e1e1e" stroke-width="1.3"/>
<line x1="74.10" y1="468.20" x2="74.10" y2="471.20" stroke="#1e1e1e" stroke-width="1.3"/>
<text transform="translate(74.30 481.10) scale(0.88 1.0)" font-size="10.0" text-anchor="middle" font-weight="normal" fill="#151515" class="tk">7</text>
<line x1="109.10" y1="468.20" x2="109.10" y2="471.20" stroke="#1e1e1e" stroke-width="1.3"/>
<text transform="translate(109.30 481.10) scale(0.88 1.0)" font-size="10.0" text-anchor="middle" font-weight="normal" fill="#151515" class="tk">14</text>
<line x1="144.10" y1="468.20" x2="144.10" y2="471.20" stroke="#1e1e1e" stroke-width="1.3"/>
<text transform="translate(144.30 481.10) scale(0.88 1.0)" font-size="10.0" text-anchor="middle" font-weight="normal" fill="#151515" class="tk">21</text>
<text x="93.80" y="353.30" font-size="10.9" text-anchor="middle" font-weight="normal" fill="#151515">Ter119</text>
<polyline points="44.10,367.16 74.10,363.88 109.10,362.78 144.10,362.78" fill="none" stroke="#f39a2a" stroke-width="1.15" stroke-linejoin="round"/>
<polyline points="44.10,366.72 74.10,363.44 109.10,362.12 144.10,361.90" fill="none" stroke="#6d9fd5" stroke-width="1.15" stroke-linejoin="round"/>
<polyline points="44.10,366.94 74.10,363.66 109.10,362.34 144.10,362.12" fill="none" stroke="#2b4897" stroke-width="1.15" stroke-linejoin="round"/>
<polyline points="44.10,366.50 74.10,363.22 109.10,361.90 144.10,361.47" fill="none" stroke="#161616" stroke-width="1.15" stroke-linejoin="round"/>
<polyline points="44.10,367.38 74.10,364.09 109.10,363.00 144.10,363.00" fill="none" stroke="#9a1b22" stroke-width="1.15" stroke-linejoin="round"/>
<rect x="41.70" y="364.76" width="4.80" height="4.80" fill="#f39a2a"/>
<rect x="71.70" y="361.47" width="4.80" height="4.80" fill="#f39a2a"/>
<rect x="106.70" y="360.38" width="4.80" height="4.80" fill="#f39a2a"/>
<rect x="141.70" y="360.38" width="4.80" height="4.80" fill="#f39a2a"/>
<rect x="41.70" y="364.32" width="4.80" height="4.80" fill="#6d9fd5"/>
<rect x="71.70" y="361.04" width="4.80" height="4.80" fill="#6d9fd5"/>
<rect x="106.70" y="359.72" width="4.80" height="4.80" fill="#6d9fd5"/>
<rect x="141.70" y="359.50" width="4.80" height="4.80" fill="#6d9fd5"/>
<circle cx="44.10" cy="366.94" r="2.6" fill="#2b4897"/>
<circle cx="74.10" cy="363.66" r="2.6" fill="#2b4897"/>
<circle cx="109.10" cy="362.34" r="2.6" fill="#2b4897"/>
<circle cx="144.10" cy="362.12" r="2.6" fill="#2b4897"/>
<circle cx="44.10" cy="366.50" r="2.6" fill="#161616"/>
<circle cx="74.10" cy="363.22" r="2.6" fill="#161616"/>
<circle cx="109.10" cy="361.90" r="2.6" fill="#161616"/>
<circle cx="144.10" cy="361.47" r="2.6" fill="#161616"/>
<circle cx="44.10" cy="367.38" r="2.6" fill="#9a1b22"/>
<circle cx="74.10" cy="364.09" r="2.6" fill="#9a1b22"/>
<circle cx="109.10" cy="363.00" r="2.6" fill="#9a1b22"/>
<circle cx="144.10" cy="363.00" r="2.6" fill="#9a1b22"/>
<line x1="210.20" y1="358.80" x2="210.20" y2="469.10" stroke="#1e1e1e" stroke-width="1.3"/>
<line x1="206.70" y1="468.50" x2="210.20" y2="468.50" stroke="#1e1e1e" stroke-width="1.3"/>
<text transform="translate(205.00 471.50) scale(0.88 1.0)" font-size="10.0" text-anchor="end" font-weight="normal" fill="#151515" class="tk">0</text>
<line x1="206.70" y1="441.23" x2="210.20" y2="441.23" stroke="#1e1e1e" stroke-width="1.3"/>
<text transform="translate(205.00 444.23) scale(0.88 1.0)" font-size="10.0" text-anchor="end" font-weight="normal" fill="#151515" class="tk">25</text>
<line x1="206.70" y1="413.95" x2="210.20" y2="413.95" stroke="#1e1e1e" stroke-width="1.3"/>
<text transform="translate(205.00 416.95) scale(0.88 1.0)" font-size="10.0" text-anchor="end" font-weight="normal" fill="#151515" class="tk">50</text>
<line x1="206.70" y1="386.67" x2="210.20" y2="386.67" stroke="#1e1e1e" stroke-width="1.3"/>
<text transform="translate(205.00 389.67) scale(0.88 1.0)" font-size="10.0" text-anchor="end" font-weight="normal" fill="#151515" class="tk">75</text>
<line x1="206.70" y1="359.40" x2="210.20" y2="359.40" stroke="#1e1e1e" stroke-width="1.3"/>
<text transform="translate(205.00 362.40) scale(0.88 1.0)" font-size="10.0" text-anchor="end" font-weight="normal" fill="#151515" class="tk">100</text>
<line x1="210.20" y1="468.80" x2="320.20" y2="468.80" stroke="#1e1e1e" stroke-width="1.3"/>
<line x1="210.20" y1="468.80" x2="210.20" y2="471.80" stroke="#1e1e1e" stroke-width="1.3"/>
<line x1="245.20" y1="468.80" x2="245.20" y2="471.80" stroke="#1e1e1e" stroke-width="1.3"/>
<text transform="translate(245.40 481.70) scale(0.88 1.0)" font-size="10.0" text-anchor="middle" font-weight="normal" fill="#151515" class="tk">7</text>
<line x1="280.20" y1="468.80" x2="280.20" y2="471.80" stroke="#1e1e1e" stroke-width="1.3"/>
<text transform="translate(280.40 481.70) scale(0.88 1.0)" font-size="10.0" text-anchor="middle" font-weight="normal" fill="#151515" class="tk">14</text>
<line x1="315.20" y1="468.80" x2="315.20" y2="471.80" stroke="#1e1e1e" stroke-width="1.3"/>
<text transform="translate(315.40 481.70) scale(0.88 1.0)" font-size="10.0" text-anchor="middle" font-weight="normal" fill="#151515" class="tk">21</text>
<text x="264.80" y="353.30" font-size="10.9" text-anchor="middle" font-weight="normal" fill="#151515">CD61</text>
<polyline points="215.20,379.04 245.20,369.22 280.20,367.04 315.20,363.76" fill="none" stroke="#161616" stroke-width="1.15" stroke-linejoin="round"/>
<polyline points="215.20,379.04 245.20,371.40 280.20,369.22 315.20,369.22" fill="none" stroke="#6d9fd5" stroke-width="1.15" stroke-linejoin="round"/>
<polyline points="215.20,379.04 245.20,373.58 280.20,371.40 315.20,374.67" fill="none" stroke="#2b4897" stroke-width="1.15" stroke-linejoin="round"/>
<polyline points="215.20,379.04 245.20,379.04 280.20,377.95 315.20,376.86" fill="none" stroke="#f39a2a" stroke-width="1.15" stroke-linejoin="round"/>
<polyline points="215.20,379.04 245.20,380.13 280.20,378.49 315.20,380.13" fill="none" stroke="#9a1b22" stroke-width="1.15" stroke-linejoin="round"/>
<circle cx="215.20" cy="379.04" r="2.6" fill="#161616"/>
<circle cx="245.20" cy="369.22" r="2.6" fill="#161616"/>
<circle cx="280.20" cy="367.04" r="2.6" fill="#161616"/>
<circle cx="315.20" cy="363.76" r="2.6" fill="#161616"/>
<rect x="212.80" y="376.64" width="4.80" height="4.80" fill="#6d9fd5"/>
<rect x="242.80" y="369.00" width="4.80" height="4.80" fill="#6d9fd5"/>
<rect x="277.80" y="366.82" width="4.80" height="4.80" fill="#6d9fd5"/>
<rect x="312.80" y="366.82" width="4.80" height="4.80" fill="#6d9fd5"/>
<rect x="212.80" y="376.64" width="4.80" height="4.80" fill="#2b4897"/>
<rect x="242.80" y="371.18" width="4.80" height="4.80" fill="#2b4897"/>
<rect x="277.80" y="369.00" width="4.80" height="4.80" fill="#2b4897"/>
<rect x="312.80" y="372.27" width="4.80" height="4.80" fill="#2b4897"/>
<rect x="212.80" y="376.64" width="4.80" height="4.80" fill="#f39a2a"/>
<rect x="242.80" y="376.64" width="4.80" height="4.80" fill="#f39a2a"/>
<rect x="277.80" y="375.55" width="4.80" height="4.80" fill="#f39a2a"/>
<rect x="312.80" y="374.46" width="4.80" height="4.80" fill="#f39a2a"/>
<circle cx="215.20" cy="379.04" r="2.6" fill="#9a1b22"/>
<circle cx="245.20" cy="380.13" r="2.6" fill="#9a1b22"/>
<circle cx="280.20" cy="378.49" r="2.6" fill="#9a1b22"/>
<circle cx="315.20" cy="380.13" r="2.6" fill="#9a1b22"/>
<line x1="389.30" y1="359.70" x2="389.30" y2="469.80" stroke="#1e1e1e" stroke-width="1.3"/>
<line x1="385.80" y1="469.20" x2="389.30" y2="469.20" stroke="#1e1e1e" stroke-width="1.3"/>
<text transform="translate(384.10 472.20) scale(0.88 1.0)" font-size="10.0" text-anchor="end" font-weight="normal" fill="#151515" class="tk">0</text>
<line x1="385.80" y1="441.98" x2="389.30" y2="441.98" stroke="#1e1e1e" stroke-width="1.3"/>
<text transform="translate(384.10 444.98) scale(0.88 1.0)" font-size="10.0" text-anchor="end" font-weight="normal" fill="#151515" class="tk">25</text>
<line x1="385.80" y1="414.75" x2="389.30" y2="414.75" stroke="#1e1e1e" stroke-width="1.3"/>
<text transform="translate(384.10 417.75) scale(0.88 1.0)" font-size="10.0" text-anchor="end" font-weight="normal" fill="#151515" class="tk">50</text>
<line x1="385.80" y1="387.52" x2="389.30" y2="387.52" stroke="#1e1e1e" stroke-width="1.3"/>
<text transform="translate(384.10 390.52) scale(0.88 1.0)" font-size="10.0" text-anchor="end" font-weight="normal" fill="#151515" class="tk">75</text>
<line x1="385.80" y1="360.30" x2="389.30" y2="360.30" stroke="#1e1e1e" stroke-width="1.3"/>
<text transform="translate(384.10 363.30) scale(0.88 1.0)" font-size="10.0" text-anchor="end" font-weight="normal" fill="#151515" class="tk">100</text>
<line x1="389.30" y1="469.50" x2="499.30" y2="469.50" stroke="#1e1e1e" stroke-width="1.3"/>
<line x1="389.30" y1="469.50" x2="389.30" y2="472.50" stroke="#1e1e1e" stroke-width="1.3"/>
<line x1="424.30" y1="469.50" x2="424.30" y2="472.50" stroke="#1e1e1e" stroke-width="1.3"/>
<text transform="translate(424.50 482.40) scale(0.88 1.0)" font-size="10.0" text-anchor="middle" font-weight="normal" fill="#151515" class="tk">7</text>
<line x1="459.30" y1="469.50" x2="459.30" y2="472.50" stroke="#1e1e1e" stroke-width="1.3"/>
<text transform="translate(459.50 482.40) scale(0.88 1.0)" font-size="10.0" text-anchor="middle" font-weight="normal" fill="#151515" class="tk">14</text>
<line x1="494.30" y1="469.50" x2="494.30" y2="472.50" stroke="#1e1e1e" stroke-width="1.3"/>
<text transform="translate(494.50 482.40) scale(0.88 1.0)" font-size="10.0" text-anchor="middle" font-weight="normal" fill="#151515" class="tk">21</text>
<text x="443.70" y="353.30" font-size="10.9" text-anchor="middle" font-weight="normal" fill="#151515">Gr1</text>
<polyline points="394.30,372.28 424.30,365.75 459.30,364.66 494.30,364.11" fill="none" stroke="#161616" stroke-width="1.15" stroke-linejoin="round"/>
<polyline points="394.30,372.28 424.30,366.83 459.30,365.75 494.30,369.67" fill="none" stroke="#6d9fd5" stroke-width="1.15" stroke-linejoin="round"/>
<polyline points="394.30,372.28 424.30,369.01 459.30,369.01 494.30,377.40" fill="none" stroke="#2b4897" stroke-width="1.15" stroke-linejoin="round"/>
<polyline points="394.30,371.19 424.30,372.28 459.30,380.99 494.30,378.81" fill="none" stroke="#f39a2a" stroke-width="1.15" stroke-linejoin="round"/>
<polyline points="394.30,372.28 424.30,373.37 459.30,388.61 494.30,391.34" fill="none" stroke="#9a1b22" stroke-width="1.15" stroke-linejoin="round"/>
<circle cx="394.30" cy="372.28" r="2.6" fill="#161616"/>
<circle cx="424.30" cy="365.75" r="2.6" fill="#161616"/>
<circle cx="459.30" cy="364.66" r="2.6" fill="#161616"/>
<circle cx="494.30" cy="364.11" r="2.6" fill="#161616"/>
<circle cx="394.30" cy="372.28" r="2.6" fill="#6d9fd5"/>
<circle cx="424.30" cy="366.83" r="2.6" fill="#6d9fd5"/>
<circle cx="459.30" cy="365.75" r="2.6" fill="#6d9fd5"/>
<circle cx="494.30" cy="369.67" r="2.6" fill="#6d9fd5"/>
<circle cx="394.30" cy="372.28" r="2.6" fill="#2b4897"/>
<circle cx="424.30" cy="369.01" r="2.6" fill="#2b4897"/>
<circle cx="459.30" cy="369.01" r="2.6" fill="#2b4897"/>
<line x1="494.30" y1="379.58" x2="494.30" y2="375.22" stroke="#2b4897" stroke-width="1.0"/>
<line x1="491.70" y1="379.58" x2="496.90" y2="379.58" stroke="#2b4897" stroke-width="1.0"/>
<line x1="491.70" y1="375.22" x2="496.90" y2="375.22" stroke="#2b4897" stroke-width="1.0"/>
<circle cx="494.30" cy="377.40" r="2.6" fill="#2b4897"/>
<rect x="391.90" y="368.79" width="4.80" height="4.80" fill="#f39a2a"/>
<rect x="421.90" y="369.88" width="4.80" height="4.80" fill="#f39a2a"/>
<line x1="459.30" y1="384.26" x2="459.30" y2="377.72" stroke="#f39a2a" stroke-width="1.0"/>
<line x1="456.70" y1="384.26" x2="461.90" y2="384.26" stroke="#f39a2a" stroke-width="1.0"/>
<line x1="456.70" y1="377.72" x2="461.90" y2="377.72" stroke="#f39a2a" stroke-width="1.0"/>
<rect x="456.90" y="378.59" width="4.80" height="4.80" fill="#f39a2a"/>
<line x1="494.30" y1="382.08" x2="494.30" y2="375.55" stroke="#f39a2a" stroke-width="1.0"/>
<line x1="491.70" y1="382.08" x2="496.90" y2="382.08" stroke="#f39a2a" stroke-width="1.0"/>
<line x1="491.70" y1="375.55" x2="496.90" y2="375.55" stroke="#f39a2a" stroke-width="1.0"/>
<rect x="491.90" y="376.41" width="4.80" height="4.80" fill="#f39a2a"/>
<circle cx="394.30" cy="372.28" r="2.6" fill="#9a1b22"/>
<circle cx="424.30" cy="373.37" r="2.6" fill="#9a1b22"/>
<line x1="459.30" y1="391.88" x2="459.30" y2="385.35" stroke="#9a1b22" stroke-width="1.0"/>
<line x1="456.70" y1="391.88" x2="461.90" y2="391.88" stroke="#9a1b22" stroke-width="1.0"/>
<line x1="456.70" y1="385.35" x2="461.90" y2="385.35" stroke="#9a1b22" stroke-width="1.0"/>
<circle cx="459.30" cy="388.61" r="2.6" fill="#9a1b22"/>
<line x1="494.30" y1="394.60" x2="494.30" y2="388.07" stroke="#9a1b22" stroke-width="1.0"/>
<line x1="491.70" y1="394.60" x2="496.90" y2="394.60" stroke="#9a1b22" stroke-width="1.0"/>
<line x1="491.70" y1="388.07" x2="496.90" y2="388.07" stroke="#9a1b22" stroke-width="1.0"/>
<circle cx="494.30" cy="391.34" r="2.6" fill="#9a1b22"/>
<text x="18.00" y="405.50" font-size="10.0" text-anchor="middle" font-weight="normal" fill="#151515" transform="rotate(-90 18.0 405.5)">% chimerism</text>
<rect x="40.10" y="588.71" width="110.50" height="31.29" fill="#d1d1d1"/>
<line x1="40.10" y1="520.40" x2="40.10" y2="631.40" stroke="#1e1e1e" stroke-width="1.3"/>
<line x1="36.60" y1="630.80" x2="40.10" y2="630.80" stroke="#1e1e1e" stroke-width="1.3"/>
<text transform="translate(33.70 633.80) scale(0.88 1.0)" font-size="10.0" text-anchor="end" font-weight="normal" fill="#151515" class="tk">0</text>
<line x1="36.60" y1="612.50" x2="40.10" y2="612.50" stroke="#1e1e1e" stroke-width="1.3"/>
<text transform="translate(33.70 615.50) scale(0.88 1.0)" font-size="10.0" text-anchor="end" font-weight="normal" fill="#151515" class="tk">200</text>
<line x1="36.60" y1="594.20" x2="40.10" y2="594.20" stroke="#1e1e1e" stroke-width="1.3"/>
<text transform="translate(33.70 597.20) scale(0.88 1.0)" font-size="10.0" text-anchor="end" font-weight="normal" fill="#151515" class="tk">400</text>
<line x1="36.60" y1="575.90" x2="40.10" y2="575.90" stroke="#1e1e1e" stroke-width="1.3"/>
<text transform="translate(33.70 578.90) scale(0.88 1.0)" font-size="10.0" text-anchor="end" font-weight="normal" fill="#151515" class="tk">600</text>
<line x1="36.60" y1="557.60" x2="40.10" y2="557.60" stroke="#1e1e1e" stroke-width="1.3"/>
<text transform="translate(33.70 560.60) scale(0.88 1.0)" font-size="10.0" text-anchor="end" font-weight="normal" fill="#151515" class="tk">800</text>
<line x1="36.60" y1="539.30" x2="40.10" y2="539.30" stroke="#1e1e1e" stroke-width="1.3"/>
<text transform="translate(33.70 542.30) scale(0.88 1.0)" font-size="10.0" text-anchor="end" font-weight="normal" fill="#151515" class="tk">1000</text>
<line x1="36.60" y1="521.00" x2="40.10" y2="521.00" stroke="#1e1e1e" stroke-width="1.3"/>
<text transform="translate(33.70 524.00) scale(0.88 1.0)" font-size="10.0" text-anchor="end" font-weight="normal" fill="#151515" class="tk">1200</text>
<line x1="40.10" y1="631.00" x2="149.50" y2="631.00" stroke="#1e1e1e" stroke-width="1.3"/>
<line x1="40.10" y1="631.00" x2="40.10" y2="634.00" stroke="#1e1e1e" stroke-width="1.3"/>
<line x1="75.10" y1="631.00" x2="75.10" y2="634.00" stroke="#1e1e1e" stroke-width="1.3"/>
<text transform="translate(75.30 643.10) scale(0.88 1.0)" font-size="10.0" text-anchor="middle" font-weight="normal" fill="#151515" class="tk">7</text>
<line x1="110.10" y1="631.00" x2="110.10" y2="634.00" stroke="#1e1e1e" stroke-width="1.3"/>
<text transform="translate(110.30 643.10) scale(0.88 1.0)" font-size="10.0" text-anchor="middle" font-weight="normal" fill="#151515" class="tk">14</text>
<line x1="145.10" y1="631.00" x2="145.10" y2="634.00" stroke="#1e1e1e" stroke-width="1.3"/>
<text transform="translate(145.30 643.10) scale(0.88 1.0)" font-size="10.0" text-anchor="middle" font-weight="normal" fill="#151515" class="tk">21</text>
<text x="56.00" y="515.80" font-size="10.5" text-anchor="start" font-weight="normal" fill="#151515">reticulocytes (x10<tspan dy="-4.2" font-size="7.2">9</tspan><tspan dy="4.2">/L)</tspan></text>
<text transform="translate(93.40 657.20) scale(1.0 1.08)" font-size="9.5" text-anchor="middle" font-weight="normal" fill="#151515">Days of treatment</text>
<polyline points="45.10,580.02 145.10,532.44" fill="none" stroke="#eba246" stroke-width="1.15" stroke-linejoin="round"/>
<polyline points="45.10,583.22 145.10,606.55" fill="none" stroke="#2b4897" stroke-width="1.15" stroke-linejoin="round"/>
<polyline points="45.10,593.28 145.10,597.40" fill="none" stroke="#161616" stroke-width="1.15" stroke-linejoin="round"/>
<polyline points="45.10,585.96 145.10,621.65" fill="none" stroke="#9a1b22" stroke-width="1.15" stroke-linejoin="round"/>
<line x1="45.10" y1="584.13" x2="45.10" y2="575.90" stroke="#eba246" stroke-width="1.0"/>
<line x1="42.50" y1="584.13" x2="47.70" y2="584.13" stroke="#eba246" stroke-width="1.0"/>
<line x1="42.50" y1="575.90" x2="47.70" y2="575.90" stroke="#eba246" stroke-width="1.0"/>
<circle cx="45.10" cy="580.02" r="2.6" fill="#eba246"/>
<line x1="145.10" y1="541.59" x2="145.10" y2="523.29" stroke="#eba246" stroke-width="1.0"/>
<line x1="142.50" y1="541.59" x2="147.70" y2="541.59" stroke="#eba246" stroke-width="1.0"/>
<line x1="142.50" y1="523.29" x2="147.70" y2="523.29" stroke="#eba246" stroke-width="1.0"/>
<circle cx="145.10" cy="532.44" r="2.6" fill="#eba246"/>
<line x1="45.10" y1="585.96" x2="45.10" y2="580.48" stroke="#2b4897" stroke-width="1.0"/>
<line x1="42.50" y1="585.96" x2="47.70" y2="585.96" stroke="#2b4897" stroke-width="1.0"/>
<line x1="42.50" y1="580.48" x2="47.70" y2="580.48" stroke="#2b4897" stroke-width="1.0"/>
<circle cx="45.10" cy="583.22" r="2.6" fill="#2b4897"/>
<circle cx="145.10" cy="606.55" r="2.6" fill="#2b4897"/>
<line x1="45.10" y1="596.94" x2="45.10" y2="589.62" stroke="#161616" stroke-width="1.0"/>
<line x1="42.50" y1="596.94" x2="47.70" y2="596.94" stroke="#161616" stroke-width="1.0"/>
<line x1="42.50" y1="589.62" x2="47.70" y2="589.62" stroke="#161616" stroke-width="1.0"/>
<circle cx="45.10" cy="593.28" r="2.6" fill="#161616"/>
<circle cx="145.10" cy="597.40" r="2.6" fill="#161616"/>
<line x1="45.10" y1="589.62" x2="45.10" y2="582.30" stroke="#9a1b22" stroke-width="1.0"/>
<line x1="42.50" y1="589.62" x2="47.70" y2="589.62" stroke="#9a1b22" stroke-width="1.0"/>
<line x1="42.50" y1="582.30" x2="47.70" y2="582.30" stroke="#9a1b22" stroke-width="1.0"/>
<circle cx="45.10" cy="585.96" r="2.6" fill="#9a1b22"/>
<circle cx="145.10" cy="621.65" r="2.6" fill="#9a1b22"/>
<rect x="42.70" y="578.99" width="4.80" height="4.80" fill="#d8472a"/>
<text x="190.40" y="511.30" font-size="10.5" text-anchor="start" font-weight="normal" fill="#151515">Chimerism after 21 days of treatment</text>
<text x="264.80" y="527.00" font-size="10.4" text-anchor="middle" font-weight="normal" fill="#151515">% of GFP-/ Ter119+ cells</text>
<text x="264.80" y="538.80" font-size="10.4" text-anchor="middle" font-weight="normal" fill="#151515">in bone marrow</text>
<line x1="189.20" y1="553.80" x2="189.20" y2="630.20" stroke="#1e1e1e" stroke-width="1.3"/>
<line x1="186.20" y1="629.60" x2="189.20" y2="629.60" stroke="#1e1e1e" stroke-width="1.3"/>
<text transform="translate(185.00 632.60) scale(0.88 1.0)" font-size="10.0" text-anchor="end" font-weight="normal" fill="#151515" class="tk">0</text>
<line x1="186.20" y1="610.80" x2="189.20" y2="610.80" stroke="#1e1e1e" stroke-width="1.3"/>
<text transform="translate(185.00 613.80) scale(0.88 1.0)" font-size="10.0" text-anchor="end" font-weight="normal" fill="#151515" class="tk">25</text>
<line x1="186.20" y1="592.00" x2="189.20" y2="592.00" stroke="#1e1e1e" stroke-width="1.3"/>
<text transform="translate(185.00 595.00) scale(0.88 1.0)" font-size="10.0" text-anchor="end" font-weight="normal" fill="#151515" class="tk">50</text>
<line x1="186.20" y1="573.20" x2="189.20" y2="573.20" stroke="#1e1e1e" stroke-width="1.3"/>
<text transform="translate(185.00 576.20) scale(0.88 1.0)" font-size="10.0" text-anchor="end" font-weight="normal" fill="#151515" class="tk">75</text>
<line x1="186.20" y1="554.40" x2="189.20" y2="554.40" stroke="#1e1e1e" stroke-width="1.3"/>
<text transform="translate(185.00 557.40) scale(0.88 1.0)" font-size="10.0" text-anchor="end" font-weight="normal" fill="#151515" class="tk">100</text>
<line x1="189.20" y1="629.90" x2="338.00" y2="629.90" stroke="#1e1e1e" stroke-width="1.3"/>
<line x1="193.30" y1="558.40" x2="214.70" y2="558.40" stroke="#161616" stroke-width="2.0"/>
<circle cx="197.40" cy="556.90" r="2.45" fill="#161616"/>
<circle cx="199.60" cy="559.90" r="2.45" fill="#161616"/>
<circle cx="201.80" cy="556.90" r="2.45" fill="#161616"/>
<circle cx="204.00" cy="559.90" r="2.45" fill="#161616"/>
<circle cx="206.20" cy="556.90" r="2.45" fill="#161616"/>
<circle cx="208.40" cy="559.90" r="2.45" fill="#161616"/>
<circle cx="210.60" cy="556.90" r="2.45" fill="#161616"/>
<line x1="223.30" y1="559.00" x2="244.70" y2="559.00" stroke="#6d9fd5" stroke-width="2.0"/>
<circle cx="227.40" cy="557.50" r="2.45" fill="#6d9fd5"/>
<circle cx="229.60" cy="560.50" r="2.45" fill="#6d9fd5"/>
<circle cx="231.80" cy="557.50" r="2.45" fill="#6d9fd5"/>
<circle cx="234.00" cy="560.50" r="2.45" fill="#6d9fd5"/>
<circle cx="236.20" cy="557.50" r="2.45" fill="#6d9fd5"/>
<circle cx="238.40" cy="560.50" r="2.45" fill="#6d9fd5"/>
<circle cx="240.60" cy="557.50" r="2.45" fill="#6d9fd5"/>
<line x1="253.30" y1="559.20" x2="274.70" y2="559.20" stroke="#2b4897" stroke-width="2.0"/>
<circle cx="260.00" cy="558.40" r="2.45" fill="#2b4897"/>
<circle cx="262.50" cy="558.40" r="2.45" fill="#2b4897"/>
<circle cx="265.50" cy="558.40" r="2.45" fill="#2b4897"/>
<circle cx="268.00" cy="558.40" r="2.45" fill="#2b4897"/>
<circle cx="263.50" cy="565.00" r="2.45" fill="#2b4897"/>
<line x1="282.80" y1="578.50" x2="304.20" y2="578.50" stroke="#f39a2a" stroke-width="2.0"/>
<circle cx="293.50" cy="562.00" r="2.45" fill="#f39a2a"/>
<circle cx="289.00" cy="568.00" r="2.45" fill="#f39a2a"/>
<circle cx="293.50" cy="570.00" r="2.45" fill="#f39a2a"/>
<circle cx="297.70" cy="575.00" r="2.45" fill="#f39a2a"/>
<circle cx="293.50" cy="579.40" r="2.45" fill="#f39a2a"/>
<circle cx="289.00" cy="585.60" r="2.45" fill="#f39a2a"/>
<circle cx="293.50" cy="586.70" r="2.45" fill="#f39a2a"/>
<circle cx="293.50" cy="597.70" r="2.45" fill="#f39a2a"/>
<line x1="312.00" y1="583.30" x2="333.40" y2="583.30" stroke="#9a1b22" stroke-width="2.0"/>
<circle cx="322.70" cy="563.70" r="2.45" fill="#9a1b22"/>
<circle cx="322.70" cy="573.30" r="2.45" fill="#9a1b22"/>
<circle cx="322.70" cy="579.40" r="2.45" fill="#9a1b22"/>
<circle cx="322.70" cy="586.50" r="2.45" fill="#9a1b22"/>
<circle cx="317.90" cy="591.00" r="2.45" fill="#9a1b22"/>
<circle cx="322.70" cy="594.80" r="2.45" fill="#9a1b22"/>
<circle cx="327.50" cy="594.80" r="2.45" fill="#9a1b22"/>
<text x="448.00" y="524.00" font-size="10.4" text-anchor="middle" font-weight="normal" fill="#151515">% of GFP-/ Gr1+ cells</text>
<text x="448.00" y="536.50" font-size="10.4" text-anchor="middle" font-weight="normal" fill="#151515">in bone marrow</text>
<line x1="370.20" y1="554.40" x2="370.20" y2="630.40" stroke="#1e1e1e" stroke-width="1.3"/>
<line x1="367.20" y1="629.80" x2="370.20" y2="629.80" stroke="#1e1e1e" stroke-width="1.3"/>
<text transform="translate(366.00 632.80) scale(0.88 1.0)" font-size="10.0" text-anchor="end" font-weight="normal" fill="#151515" class="tk">0</text>
<line x1="367.20" y1="611.10" x2="370.20" y2="611.10" stroke="#1e1e1e" stroke-width="1.3"/>
<text transform="translate(366.00 614.10) scale(0.88 1.0)" font-size="10.0" text-anchor="end" font-weight="normal" fill="#151515" class="tk">25</text>
<line x1="367.20" y1="592.40" x2="370.20" y2="592.40" stroke="#1e1e1e" stroke-width="1.3"/>
<text transform="translate(366.00 595.40) scale(0.88 1.0)" font-size="10.0" text-anchor="end" font-weight="normal" fill="#151515" class="tk">50</text>
<line x1="367.20" y1="573.70" x2="370.20" y2="573.70" stroke="#1e1e1e" stroke-width="1.3"/>
<text transform="translate(366.00 576.70) scale(0.88 1.0)" font-size="10.0" text-anchor="end" font-weight="normal" fill="#151515" class="tk">75</text>
<line x1="367.20" y1="555.00" x2="370.20" y2="555.00" stroke="#1e1e1e" stroke-width="1.3"/>
<text transform="translate(366.00 558.00) scale(0.88 1.0)" font-size="10.0" text-anchor="end" font-weight="normal" fill="#151515" class="tk">100</text>
<line x1="370.20" y1="630.10" x2="520.00" y2="630.10" stroke="#1e1e1e" stroke-width="1.3"/>
<line x1="375.50" y1="558.30" x2="396.90" y2="558.30" stroke="#161616" stroke-width="2.0"/>
<circle cx="379.60" cy="556.80" r="2.45" fill="#161616"/>
<circle cx="381.80" cy="559.80" r="2.45" fill="#161616"/>
<circle cx="384.00" cy="556.80" r="2.45" fill="#161616"/>
<circle cx="386.20" cy="559.80" r="2.45" fill="#161616"/>
<circle cx="388.40" cy="556.80" r="2.45" fill="#161616"/>
<circle cx="390.60" cy="559.80" r="2.45" fill="#161616"/>
<circle cx="392.80" cy="556.80" r="2.45" fill="#161616"/>
<line x1="404.30" y1="559.50" x2="425.70" y2="559.50" stroke="#6d9fd5" stroke-width="2.0"/>
<circle cx="408.40" cy="558.00" r="2.45" fill="#6d9fd5"/>
<circle cx="410.60" cy="561.00" r="2.45" fill="#6d9fd5"/>
<circle cx="412.80" cy="558.00" r="2.45" fill="#6d9fd5"/>
<circle cx="415.00" cy="561.00" r="2.45" fill="#6d9fd5"/>
<circle cx="417.20" cy="558.00" r="2.45" fill="#6d9fd5"/>
<circle cx="419.40" cy="561.00" r="2.45" fill="#6d9fd5"/>
<circle cx="421.60" cy="558.00" r="2.45" fill="#6d9fd5"/>
<line x1="433.90" y1="562.50" x2="455.30" y2="562.50" stroke="#2b4897" stroke-width="2.0"/>
<circle cx="441.20" cy="559.20" r="2.45" fill="#2b4897"/>
<circle cx="444.60" cy="559.20" r="2.45" fill="#2b4897"/>
<circle cx="448.50" cy="559.20" r="2.45" fill="#2b4897"/>
<circle cx="444.60" cy="565.60" r="2.45" fill="#2b4897"/>
<circle cx="444.60" cy="574.20" r="2.45" fill="#2b4897"/>
<line x1="463.70" y1="576.90" x2="485.10" y2="576.90" stroke="#f39a2a" stroke-width="2.0"/>
<circle cx="474.40" cy="562.70" r="2.45" fill="#f39a2a"/>
<circle cx="479.00" cy="562.70" r="2.45" fill="#f39a2a"/>
<circle cx="469.60" cy="570.20" r="2.45" fill="#f39a2a"/>
<circle cx="474.40" cy="574.20" r="2.45" fill="#f39a2a"/>
<circle cx="474.40" cy="580.80" r="2.45" fill="#f39a2a"/>
<circle cx="479.00" cy="580.80" r="2.45" fill="#f39a2a"/>
<circle cx="474.40" cy="588.70" r="2.45" fill="#f39a2a"/>
<circle cx="474.40" cy="597.70" r="2.45" fill="#f39a2a"/>
<line x1="493.30" y1="588.70" x2="514.70" y2="588.70" stroke="#9a1b22" stroke-width="2.0"/>
<circle cx="504.00" cy="571.70" r="2.45" fill="#9a1b22"/>
<circle cx="499.40" cy="585.80" r="2.45" fill="#9a1b22"/>
<circle cx="504.00" cy="585.80" r="2.45" fill="#9a1b22"/>
<circle cx="508.50" cy="585.80" r="2.45" fill="#9a1b22"/>
<circle cx="504.00" cy="592.50" r="2.45" fill="#9a1b22"/>
<circle cx="508.50" cy="596.70" r="2.45" fill="#9a1b22"/>
<circle cx="504.00" cy="599.60" r="2.45" fill="#9a1b22"/>
<text x="264.80" y="659.80" font-size="10.4" text-anchor="middle" font-weight="normal" fill="#151515">% of GFP-/ Ter119+ cells</text>
<text x="264.80" y="672.50" font-size="10.4" text-anchor="middle" font-weight="normal" fill="#151515">in spleen</text>
<line x1="189.00" y1="679.00" x2="189.00" y2="756.20" stroke="#1e1e1e" stroke-width="1.3"/>
<line x1="186.00" y1="755.60" x2="189.00" y2="755.60" stroke="#1e1e1e" stroke-width="1.3"/>
<text transform="translate(184.80 758.60) scale(0.88 1.0)" font-size="10.0" text-anchor="end" font-weight="normal" fill="#151515" class="tk">0</text>
<line x1="186.00" y1="736.60" x2="189.00" y2="736.60" stroke="#1e1e1e" stroke-width="1.3"/>
<text transform="translate(184.80 739.60) scale(0.88 1.0)" font-size="10.0" text-anchor="end" font-weight="normal" fill="#151515" class="tk">25</text>
<line x1="186.00" y1="717.60" x2="189.00" y2="717.60" stroke="#1e1e1e" stroke-width="1.3"/>
<text transform="translate(184.80 720.60) scale(0.88 1.0)" font-size="10.0" text-anchor="end" font-weight="normal" fill="#151515" class="tk">50</text>
<line x1="186.00" y1="698.60" x2="189.00" y2="698.60" stroke="#1e1e1e" stroke-width="1.3"/>
<text transform="translate(184.80 701.60) scale(0.88 1.0)" font-size="10.0" text-anchor="end" font-weight="normal" fill="#151515" class="tk">75</text>
<line x1="186.00" y1="679.60" x2="189.00" y2="679.60" stroke="#1e1e1e" stroke-width="1.3"/>
<text transform="translate(184.80 682.60) scale(0.88 1.0)" font-size="10.0" text-anchor="end" font-weight="normal" fill="#151515" class="tk">100</text>
<line x1="189.00" y1="755.90" x2="328.80" y2="755.90" stroke="#1e1e1e" stroke-width="1.3"/>
<line x1="193.30" y1="686.00" x2="214.70" y2="686.00" stroke="#161616" stroke-width="2.0"/>
<circle cx="197.40" cy="684.50" r="2.45" fill="#161616"/>
<circle cx="199.60" cy="687.50" r="2.45" fill="#161616"/>
<circle cx="201.80" cy="684.50" r="2.45" fill="#161616"/>
<circle cx="204.00" cy="687.50" r="2.45" fill="#161616"/>
<circle cx="206.20" cy="684.50" r="2.45" fill="#161616"/>
<circle cx="208.40" cy="687.50" r="2.45" fill="#161616"/>
<circle cx="210.60" cy="684.50" r="2.45" fill="#161616"/>
<line x1="223.30" y1="688.00" x2="244.70" y2="688.00" stroke="#6d9fd5" stroke-width="2.0"/>
<circle cx="229.50" cy="686.50" r="2.45" fill="#6d9fd5"/>
<circle cx="234.00" cy="688.00" r="2.45" fill="#6d9fd5"/>
<circle cx="238.50" cy="686.50" r="2.45" fill="#6d9fd5"/>
<circle cx="231.50" cy="690.50" r="2.45" fill="#6d9fd5"/>
<circle cx="236.50" cy="690.50" r="2.45" fill="#6d9fd5"/>
<circle cx="234.00" cy="692.50" r="2.45" fill="#6d9fd5"/>
<circle cx="238.50" cy="684.50" r="2.45" fill="#6d9fd5"/>
<line x1="252.80" y1="689.20" x2="274.20" y2="689.20" stroke="#2b4897" stroke-width="2.0"/>
<circle cx="259.00" cy="688.60" r="2.45" fill="#2b4897"/>
<circle cx="263.00" cy="686.20" r="2.45" fill="#2b4897"/>
<circle cx="268.00" cy="686.20" r="2.45" fill="#2b4897"/>
<circle cx="263.00" cy="691.80" r="2.45" fill="#2b4897"/>
<circle cx="268.00" cy="691.40" r="2.45" fill="#2b4897"/>
<circle cx="265.50" cy="689.00" r="2.45" fill="#2b4897"/>
<line x1="282.80" y1="689.80" x2="304.20" y2="689.80" stroke="#f39a2a" stroke-width="2.0"/>
<circle cx="289.00" cy="689.40" r="2.45" fill="#f39a2a"/>
<circle cx="292.00" cy="687.20" r="2.45" fill="#f39a2a"/>
<circle cx="298.00" cy="686.80" r="2.45" fill="#f39a2a"/>
<circle cx="292.00" cy="692.20" r="2.45" fill="#f39a2a"/>
<circle cx="295.30" cy="692.40" r="2.45" fill="#f39a2a"/>
<circle cx="295.00" cy="688.50" r="2.45" fill="#f39a2a"/>
<line x1="311.00" y1="695.20" x2="332.40" y2="695.20" stroke="#9a1b22" stroke-width="2.0"/>
<circle cx="321.70" cy="685.00" r="2.45" fill="#9a1b22"/>
<circle cx="316.90" cy="689.80" r="2.45" fill="#9a1b22"/>
<circle cx="326.20" cy="689.80" r="2.45" fill="#9a1b22"/>
<circle cx="321.70" cy="693.00" r="2.45" fill="#9a1b22"/>
<circle cx="321.70" cy="701.30" r="2.45" fill="#9a1b22"/>
<circle cx="321.70" cy="718.00" r="2.45" fill="#9a1b22"/>
<text x="448.00" y="659.80" font-size="10.4" text-anchor="middle" font-weight="normal" fill="#151515">% of GFP-/ Gr1+ cells</text>
<text x="448.00" y="672.20" font-size="10.4" text-anchor="middle" font-weight="normal" fill="#151515">in spleen</text>
<line x1="369.80" y1="679.00" x2="369.80" y2="756.20" stroke="#1e1e1e" stroke-width="1.3"/>
<line x1="366.80" y1="755.60" x2="369.80" y2="755.60" stroke="#1e1e1e" stroke-width="1.3"/>
<text transform="translate(365.60 758.60) scale(0.88 1.0)" font-size="10.0" text-anchor="end" font-weight="normal" fill="#151515" class="tk">0</text>
<line x1="366.80" y1="736.60" x2="369.80" y2="736.60" stroke="#1e1e1e" stroke-width="1.3"/>
<text transform="translate(365.60 739.60) scale(0.88 1.0)" font-size="10.0" text-anchor="end" font-weight="normal" fill="#151515" class="tk">25</text>
<line x1="366.80" y1="717.60" x2="369.80" y2="717.60" stroke="#1e1e1e" stroke-width="1.3"/>
<text transform="translate(365.60 720.60) scale(0.88 1.0)" font-size="10.0" text-anchor="end" font-weight="normal" fill="#151515" class="tk">50</text>
<line x1="366.80" y1="698.60" x2="369.80" y2="698.60" stroke="#1e1e1e" stroke-width="1.3"/>
<text transform="translate(365.60 701.60) scale(0.88 1.0)" font-size="10.0" text-anchor="end" font-weight="normal" fill="#151515" class="tk">75</text>
<line x1="366.80" y1="679.60" x2="369.80" y2="679.60" stroke="#1e1e1e" stroke-width="1.3"/>
<text transform="translate(365.60 682.60) scale(0.88 1.0)" font-size="10.0" text-anchor="end" font-weight="normal" fill="#151515" class="tk">100</text>
<line x1="369.80" y1="755.90" x2="520.00" y2="755.90" stroke="#1e1e1e" stroke-width="1.3"/>
<line x1="375.50" y1="683.80" x2="396.90" y2="683.80" stroke="#161616" stroke-width="2.0"/>
<circle cx="379.60" cy="682.30" r="2.45" fill="#161616"/>
<circle cx="381.80" cy="685.30" r="2.45" fill="#161616"/>
<circle cx="384.00" cy="682.30" r="2.45" fill="#161616"/>
<circle cx="386.20" cy="685.30" r="2.45" fill="#161616"/>
<circle cx="388.40" cy="682.30" r="2.45" fill="#161616"/>
<circle cx="390.60" cy="685.30" r="2.45" fill="#161616"/>
<circle cx="392.80" cy="682.30" r="2.45" fill="#161616"/>
<line x1="404.30" y1="685.20" x2="425.70" y2="685.20" stroke="#6d9fd5" stroke-width="2.0"/>
<circle cx="408.40" cy="683.70" r="2.45" fill="#6d9fd5"/>
<circle cx="410.60" cy="686.70" r="2.45" fill="#6d9fd5"/>
<circle cx="412.80" cy="683.70" r="2.45" fill="#6d9fd5"/>
<circle cx="415.00" cy="686.70" r="2.45" fill="#6d9fd5"/>
<circle cx="417.20" cy="683.70" r="2.45" fill="#6d9fd5"/>
<circle cx="419.40" cy="686.70" r="2.45" fill="#6d9fd5"/>
<circle cx="421.60" cy="683.70" r="2.45" fill="#6d9fd5"/>
<line x1="433.90" y1="687.50" x2="455.30" y2="687.50" stroke="#2b4897" stroke-width="2.0"/>
<circle cx="441.10" cy="684.60" r="2.45" fill="#2b4897"/>
<circle cx="444.60" cy="684.60" r="2.45" fill="#2b4897"/>
<circle cx="448.10" cy="684.60" r="2.45" fill="#2b4897"/>
<circle cx="450.60" cy="685.00" r="2.45" fill="#2b4897"/>
<circle cx="444.00" cy="694.60" r="2.45" fill="#2b4897"/>
<circle cx="448.80" cy="692.30" r="2.45" fill="#2b4897"/>
<line x1="463.70" y1="691.70" x2="485.10" y2="691.70" stroke="#f39a2a" stroke-width="2.0"/>
<circle cx="469.60" cy="684.00" r="2.45" fill="#f39a2a"/>
<circle cx="474.40" cy="687.90" r="2.45" fill="#f39a2a"/>
<circle cx="469.60" cy="691.20" r="2.45" fill="#f39a2a"/>
<circle cx="479.00" cy="691.20" r="2.45" fill="#f39a2a"/>
<circle cx="474.40" cy="693.70" r="2.45" fill="#f39a2a"/>
<circle cx="474.40" cy="697.00" r="2.45" fill="#f39a2a"/>
<circle cx="474.40" cy="702.70" r="2.45" fill="#f39a2a"/>
<line x1="493.30" y1="694.00" x2="514.70" y2="694.00" stroke="#9a1b22" stroke-width="2.0"/>
<circle cx="499.40" cy="689.20" r="2.45" fill="#9a1b22"/>
<circle cx="504.00" cy="690.80" r="2.45" fill="#9a1b22"/>
<circle cx="508.50" cy="689.80" r="2.45" fill="#9a1b22"/>
<circle cx="499.40" cy="694.60" r="2.45" fill="#9a1b22"/>
<circle cx="504.00" cy="696.20" r="2.45" fill="#9a1b22"/>
<circle cx="504.00" cy="703.30" r="2.45" fill="#9a1b22"/>
<text transform="translate(202.00 766.50) scale(1.0 1.1)" font-size="9.5" text-anchor="middle" font-weight="normal" fill="#151515">vehicle</text>
<text transform="translate(232.60 766.50) scale(0.95 1.1)" font-size="9.5" text-anchor="middle" font-weight="normal" fill="#151515">30</text>
<text transform="translate(262.00 766.50) scale(0.95 1.1)" font-size="9.5" text-anchor="middle" font-weight="normal" fill="#151515">90</text>
<text transform="translate(291.30 766.50) scale(0.95 1.1)" font-size="9.5" text-anchor="middle" font-weight="normal" fill="#151515">100</text>
<text transform="translate(320.30 766.50) scale(0.95 1.1)" font-size="9.5" text-anchor="middle" font-weight="normal" fill="#151515">200</text>
<line x1="226.30" y1="772.50" x2="274.40" y2="772.50" stroke="#1a1a1a" stroke-width="1.2"/>
<line x1="283.50" y1="772.50" x2="335.00" y2="772.50" stroke="#1a1a1a" stroke-width="1.2"/>
<text transform="translate(250.40 786.00) scale(1.0 1.1)" font-size="9.5" text-anchor="middle" font-weight="normal" fill="#151515">INC424</text>
<text transform="translate(250.40 797.40) scale(1.0 1.1)" font-size="9.5" text-anchor="middle" font-weight="normal" fill="#151515">(mg/kg*bid)</text>
<text transform="translate(308.20 786.00) scale(1.0 1.1)" font-size="9.5" text-anchor="middle" font-weight="normal" fill="#151515">hydroxyurea</text>
<text transform="translate(309.30 797.40) scale(1.0 1.1)" font-size="9.5" text-anchor="middle" font-weight="normal" fill="#151515">(mg/kg*bid)</text>
<text transform="translate(383.50 766.50) scale(1.0 1.1)" font-size="9.5" text-anchor="middle" font-weight="normal" fill="#151515">vehicle</text>
<text transform="translate(414.10 766.50) scale(0.95 1.1)" font-size="9.5" text-anchor="middle" font-weight="normal" fill="#151515">30</text>
<text transform="translate(441.60 766.50) scale(0.95 1.1)" font-size="9.5" text-anchor="middle" font-weight="normal" fill="#151515">90</text>
<text transform="translate(475.40 766.50) scale(0.95 1.1)" font-size="9.5" text-anchor="middle" font-weight="normal" fill="#151515">100</text>
<text transform="translate(502.00 766.50) scale(0.95 1.1)" font-size="9.5" text-anchor="middle" font-weight="normal" fill="#151515">200</text>
<line x1="409.20" y1="771.80" x2="455.40" y2="771.80" stroke="#1a1a1a" stroke-width="1.2"/>
<line x1="466.00" y1="771.80" x2="522.00" y2="771.80" stroke="#1a1a1a" stroke-width="1.2"/>
<text transform="translate(433.00 786.00) scale(1.0 1.1)" font-size="9.5" text-anchor="middle" font-weight="normal" fill="#151515">INC424</text>
<text transform="translate(432.60 796.60) scale(1.0 1.1)" font-size="9.5" text-anchor="middle" font-weight="normal" fill="#151515">(mg/kg*bid)</text>
<text transform="translate(493.50 786.00) scale(1.0 1.1)" font-size="9.5" text-anchor="middle" font-weight="normal" fill="#151515">hydroxyurea</text>
<text transform="translate(493.50 796.60) scale(1.0 1.1)" font-size="9.5" text-anchor="middle" font-weight="normal" fill="#151515">(mg/kg*bid)</text>
</svg></body></html>
